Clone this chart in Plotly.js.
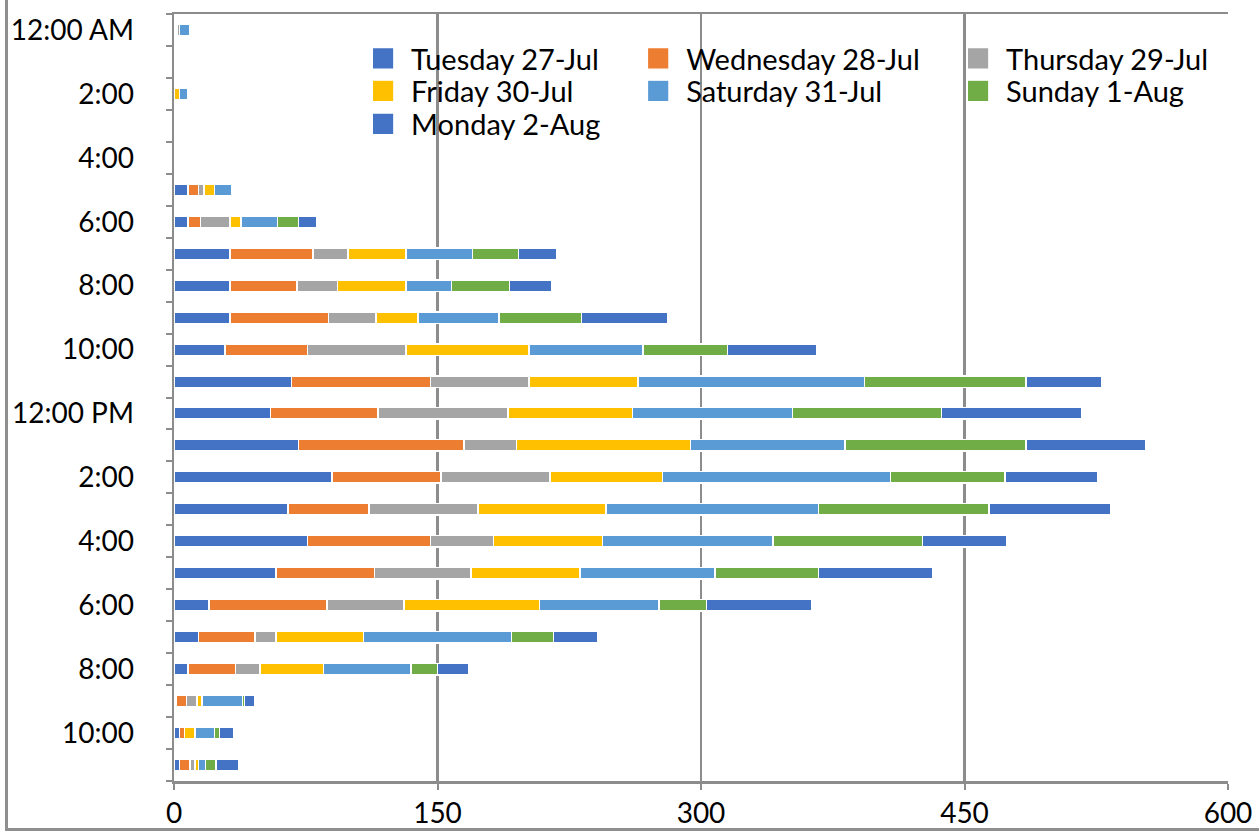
<!DOCTYPE html>
<html>
<head>
<meta charset="utf-8">
<script src="https://cdn.plot.ly/plotly-3.0.1.min.js"></script>
<style>
  html, body { margin: 0; padding: 0; background: #fff; }
  #wrap { position: relative; width: 1259px; height: 836px; overflow: hidden; }
  #chart { position: absolute; left: 0; top: 0; width: 1259px; height: 836px; }
  #frame { position: absolute; left: 5px; top: -10px; width: 1300px; height: 838px;
           border-left: 3px solid #8f8f8f; border-bottom: 3px solid #8f8f8f; pointer-events: none; }
</style>
</head>
<body>
<div id="wrap">
  <div id="chart"></div>
  <div id="frame"></div>
</div>
<script>
// Hour categories (top to bottom)
const hours = ["12:00 AM","1:00 AM","2:00 AM","3:00 AM","4:00 AM","5:00 AM","6:00 AM","7:00 AM",
  "8:00 AM","9:00 AM","10:00 AM","11:00 AM","12:00 PM","1:00 PM","2:00 PM","3:00 PM",
  "4:00 PM","5:00 PM","6:00 PM","7:00 PM","8:00 PM","9:00 PM","10:00 PM","11:00 PM"];
const hourLabels = ["12:00 AM","","2:00","","4:00","","6:00","","8:00","","10:00","",
  "12:00 PM","","2:00","","4:00","","6:00","","8:00","","10:00",""];

// Series values per hour
const tue27 = [1,0,0,0,0,8,8,32,32,32,29,67,55,71,90,65,76,58,20,14,8,1,3,3];
const wed28 = [1,0,0,0,0,6,7,47,38,56,47,79,61,94,62,46,70,56,67,32,27,6,3,6];
const thu29 = [1,0,0,0,0,3,17,20,23,27,56,56,74,30,62,62,36,55,44,12,14,6,0,3];
const fri30 = [0,0,3,0,0,6,6,33,39,24,70,62,71,99,64,73,62,62,77,50,36,3,6,2];
const sat31 = [6,0,5,0,0,10,21,38,26,46,65,129,91,88,130,121,97,77,68,84,50,23,11,4];
const sun01 = [0,0,0,0,0,0,12,26,33,47,48,92,85,103,65,97,85,59,27,24,15,1,3,6];
const mon02 = [0,0,0,0,0,0,10,22,24,49,51,43,80,68,53,69,48,65,60,25,18,6,8,13];

const seriesNames = ["Tuesday 27-Jul","Wednesday 28-Jul","Thursday 29-Jul","Friday 30-Jul",
  "Saturday 31-Jul","Sunday 1-Aug","Monday 2-Aug"];
const seriesValues = [tue27, wed28, thu29, fri30, sat31, sun01, mon02];
const seriesColors = ["#4472C4","#ED7D31","#A5A5A5","#FFC000","#5B9BD5","#70AD47","#4472C4"];
const legendIds = ["legend","legend2","legend3","legend4","legend5","legend6","legend7"];

// legend grid placement (paper coords): 3 columns, 3 rows
const legendCols = [0.187, 0.448, 0.7515];
const legendRows = [0.942, 0.8995, 0.8565];

const xTicks = [0,150,300,450,600];

const FONT = "Lato, 'Open Sans', sans-serif";
const GRID = "#8c8c8c";

const traces = seriesNames.map((name, i) => ({
  type: "bar",
  orientation: "h",
  name: name,
  y: hours,
  x: seriesValues[i],
  legend: legendIds[i],
  marker: { color: seriesColors[i], line: { color: "#ffffff", width: 1.5 } },
  hoverinfo: "x+y+name"
}));

const layout = {
  width: 1259,
  height: 836,
  margin: { l: 174, r: 31, t: 14, b: 55 },
  paper_bgcolor: "#ffffff",
  plot_bgcolor: "#ffffff",
  barmode: "stack",
  bargap: 0.64,
  showlegend: true,
  font: { family: FONT, size: 28, color: "#000" },
  xaxis: {
    range: [0, 600],
    tickmode: "array",
    tickvals: xTicks,
    ticktext: xTicks.map(String),
    showgrid: true,
    gridcolor: GRID,
    gridwidth: 2.5,
    zeroline: false,
    showline: true,
    linecolor: GRID,
    linewidth: 2.5,
    mirror: true,
    ticks: "outside",
    ticklen: 6,
    tickwidth: 2,
    tickcolor: GRID,
    ticklabelstandoff: 0,
    tickfont: { family: FONT, size: 28, color: "#000" },
    fixedrange: true
  },
  yaxis: {
    type: "category",
    categoryorder: "array",
    categoryarray: hours,
    autorange: "reversed",
    tickmode: "array",
    tickvals: hours,
    ticktext: hourLabels,
    tickson: "boundaries",
    ticks: "outside",
    ticklen: 6,
    tickwidth: 2,
    tickcolor: GRID,
    showline: true,
    linecolor: GRID,
    linewidth: 2.5,
    showgrid: false,
    zeroline: false,
    ticklabelstandoff: 32,
    tickfont: { family: FONT, size: 28, color: "#000" },
    fixedrange: true
  }
};

legendIds.forEach((id, i) => {
  layout[id] = {
    orientation: "v",
    xanchor: "left",
    yanchor: "middle",
    x: legendCols[i % 3],
    y: legendRows[Math.floor(i / 3)],
    bgcolor: "rgba(0,0,0,0)",
    borderwidth: 0,
    font: { family: FONT, size: 29, color: "#000" },
    itemwidth: 30
  };
});

const gd = document.getElementById("chart");
Plotly.newPlot(gd, traces, layout, { displayModeBar: false, staticPlot: true }).then(() => {
  // enlarge legend swatches to match the reference's bigger squares
  gd.querySelectorAll(".legendpoints path").forEach(p => {
    const t = p.getAttribute("transform") || "";
    p.setAttribute("transform", t + " translate(-8,0) scale(1.8)");
    p.style.strokeWidth = "0.8px";
  });
});
</script>
</body>
</html>
